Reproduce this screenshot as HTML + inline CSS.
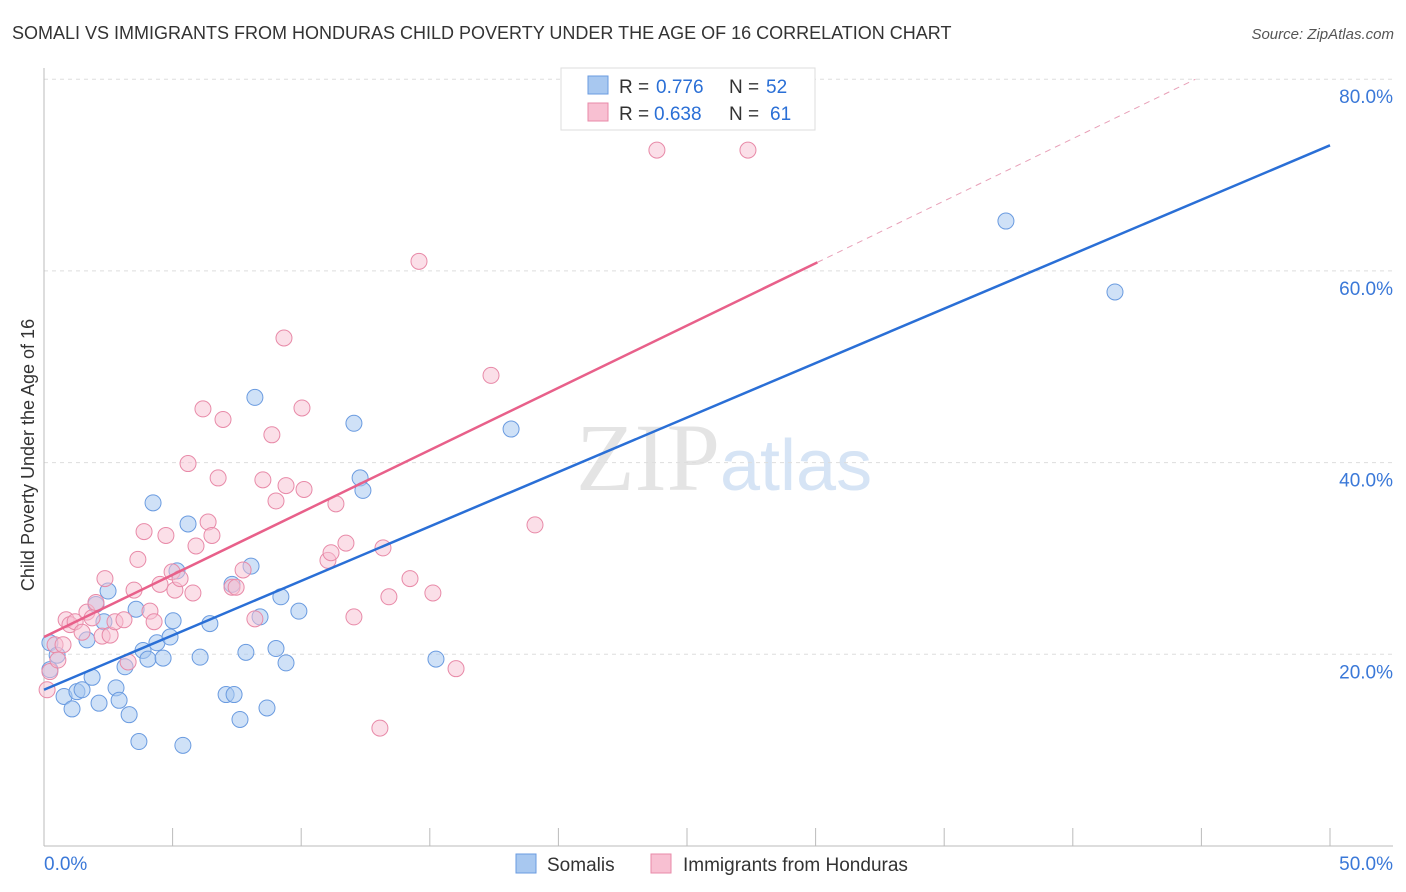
<!DOCTYPE html>
<html><head><meta charset="utf-8"><style>
body{margin:0;background:#fff;font-family:"Liberation Sans",sans-serif;}
svg{display:block}
</style></head><body>
<svg id="c" width="1406" height="892">
<text x="12" y="39" font-size="18" fill="#333">SOMALI VS IMMIGRANTS FROM HONDURAS CHILD POVERTY UNDER THE AGE OF 16 CORRELATION CHART</text>
<text x="1394" y="39" font-size="15" fill="#555" text-anchor="end" font-style="italic">Source: ZipAtlas.com</text>
<text x="720" y="490" font-size="96" fill="#e4e4e4" text-anchor="end" font-family="Liberation Serif">ZIP</text>
<text x="720" y="490" font-size="72" fill="#d6e4f5">atlas</text>
<g id="grid"></g>
<g id="marks"></g>
<text transform="translate(34,455) rotate(-90)" font-size="18" fill="#333" text-anchor="middle">Child Poverty Under the Age of 16</text>
<g>
<rect x="561" y="68" width="254" height="62" fill="#fff" stroke="#ddd"/>
<rect x="588" y="76" width="20" height="18" fill="#a8c8f0" stroke="#6a9be0"/>
<text x="619" y="93" font-size="19" fill="#333">R =</text>
<text x="656" y="93" font-size="19" fill="#2a6fd6">0.776</text>
<text x="729" y="93" font-size="19" fill="#333">N =</text>
<text x="766" y="93" font-size="19" fill="#2a6fd6">52</text>
<rect x="588" y="103" width="20" height="18" fill="#f8c0d2" stroke="#e88aa8"/>
<text x="619" y="120" font-size="19" fill="#333">R =</text>
<text x="654" y="120" font-size="19" fill="#2a6fd6">0.638</text>
<text x="729" y="120" font-size="19" fill="#333">N =</text>
<text x="770" y="120" font-size="19" fill="#2a6fd6">61</text>
</g>
<g>
<rect x="516" y="854" width="20" height="19" fill="#a8c8f0" stroke="#6a9be0"/>
<text x="547" y="871" font-size="19" fill="#333">Somalis</text>
<rect x="651" y="854" width="20" height="19" fill="#f8c0d2" stroke="#e88aa8"/>
<text x="683" y="871" font-size="19" fill="#333">Immigrants from Honduras</text>
</g>
</svg>
<script>
const blueX=[0.23,0.51,0.23,0.78,1.09,1.28,1.48,1.67,1.87,2.02,2.14,2.33,2.49,2.80,2.92,3.15,3.31,3.58,3.69,3.85,4.04,4.24,4.39,4.63,4.90,5.02,5.17,5.40,5.60,6.07,6.45,7.08,7.31,7.39,7.62,7.85,8.05,8.20,8.40,8.67,9.02,9.21,9.41,9.91,12.05,12.29,12.40,15.24,18.16,37.40,41.64];
const blueY=[21.2,19.9,18.4,15.6,14.3,16.1,16.3,21.5,17.6,25.2,14.9,23.4,26.6,16.5,15.2,18.7,13.7,24.7,10.9,20.4,19.5,35.8,21.2,19.6,21.8,23.5,28.7,10.5,33.6,19.7,23.2,15.8,27.3,15.8,13.2,20.2,29.2,46.8,23.9,14.4,20.6,26.0,19.1,24.5,44.1,38.4,37.1,19.5,43.5,65.2,57.8];
const pinkX=[0.12,0.23,0.43,0.54,0.74,0.86,1.01,1.21,1.48,1.67,1.87,2.02,2.26,2.37,2.57,2.76,3.11,3.27,3.50,3.65,3.89,4.12,4.28,4.51,4.74,4.98,5.09,5.29,5.60,5.79,5.91,6.18,6.38,6.53,6.77,6.96,7.31,7.47,7.74,8.20,8.51,8.86,9.02,9.33,9.41,10.03,10.11,11.04,11.16,11.35,11.74,12.05,13.06,13.18,13.41,14.23,14.58,15.12,16.02,17.38,19.09,23.83,27.37];
const pinkY=[16.3,18.2,21.0,19.4,21.0,23.6,23.1,23.4,22.3,24.4,23.8,25.4,21.9,27.9,22.0,23.4,23.6,19.2,26.7,29.9,32.8,24.5,23.4,27.3,32.4,28.6,26.7,27.9,39.9,26.4,31.3,45.6,33.8,32.4,38.4,44.5,27.0,27.0,28.8,23.7,38.2,42.9,36.0,53.0,37.6,45.7,37.2,29.8,30.6,35.7,31.6,23.9,12.3,31.1,26.0,27.9,61.0,26.4,18.5,49.1,33.5,72.6,72.6];
const blueTrend=[16.3,73.1];
const pinkTrend=[21.8,1.3];
const yTicks=[20,40,60,80];
const xTickLabels=["0.0%","50.0%"];
const NS="http://www.w3.org/2000/svg";
const sx=v=>44+v/50*1286, sy=v=>846-v*9.585;
function mk(tag,attrs,parent){const e=document.createElementNS(NS,tag);for(const k in attrs)e.setAttribute(k,attrs[k]);parent.appendChild(e);return e;}
const grid=document.getElementById('grid'),marks=document.getElementById('marks');
yTicks.forEach(t=>{
 const l=mk('line',{x1:44,x2:1393,y1:sy(t),y2:sy(t),stroke:'#ddd','stroke-dasharray':'4,4'},grid);
 
 
 const tx=mk('text',{x:1393,y:sy(t)+24,'font-size':19,fill:'#3a78d8','text-anchor':'end'},grid);
 tx.textContent=t.toFixed(1)+'%';
 
 
});
const ax=mk('line',{x1:44,x2:1393,y1:846,y2:846,stroke:'#bbb'},grid);


const ay=mk('line',{x1:44,x2:44,y1:68,y2:846,stroke:'#bbb'},grid);


for(let i=0;i<=10;i++){
 const t=mk('line',{x1:sx(i*5),x2:sx(i*5),y1:828,y2:846,stroke:'#bbb'},grid);
 
 
}
[[0,'start',44],[50,'end',1393]].forEach((d,i)=>{
 const t=mk('text',{x:d[2],y:870,'font-size':19,fill:'#3a78d8','text-anchor':d[1]},grid);
 t.textContent=xTickLabels[i];
 
 
});
blueX.forEach((x,i)=>{
 const c=mk('circle',{cx:sx(x),cy:sy(blueY[i]),r:8,fill:'rgba(168,200,240,0.55)',stroke:'#6a9be0','stroke-width':1},marks);
 
 
});
pinkX.forEach((x,i)=>{
 const c=mk('circle',{cx:sx(x),cy:sy(pinkY[i]),r:8,fill:'rgba(248,192,210,0.5)',stroke:'#e88aa8','stroke-width':1},marks);
 
 
});
const bl=mk('line',{x1:sx(0),y1:sy(blueTrend[0]),x2:sx(50),y2:sy(blueTrend[1]),stroke:'#2a6fd6','stroke-width':2.5},marks);


const pMax=Math.max(...pinkX)+2.7;
const pl=mk('line',{x1:sx(0),y1:sy(pinkTrend[0]),x2:sx(pMax),y2:sy(pinkTrend[0]+pinkTrend[1]*pMax),stroke:'#e8608a','stroke-width':2.5},marks);


const xEnd=(80-pinkTrend[0])/pinkTrend[1];
const pd=mk('line',{x1:sx(pMax),y1:sy(pinkTrend[0]+pinkTrend[1]*pMax),x2:sx(xEnd),y2:sy(80),stroke:'#e8a0b8','stroke-width':1,'stroke-dasharray':'6,5'},marks);


</script>
</body></html>
